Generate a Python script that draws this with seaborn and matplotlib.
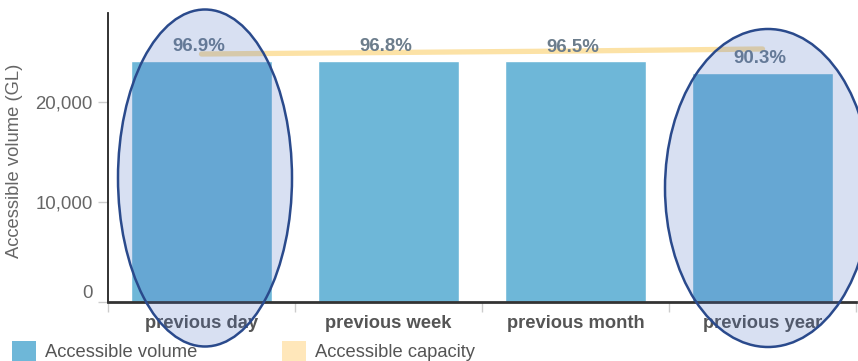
import matplotlib
matplotlib.use("Agg")
import matplotlib.pyplot as plt
import matplotlib.transforms as mtransforms
from matplotlib.patches import Ellipse, Patch
from matplotlib.ticker import FuncFormatter
import seaborn as sns
import pandas as pd

categories = ["previous day", "previous week", "previous month", "previous year"]
volume = [24130, 24130, 24100, 22920]
capacity = [24800, 24950, 25100, 25300]
pct_labels = ["96.9%", "96.8%", "96.5%", "90.3%"]
y_ticks = [0, 10000, 20000]
legend_labels = ["Accessible volume", "Accessible capacity"]
y_label = "Accessible volume (GL)"

bar_color = "#6EB7D8"
cap_color = "#FCE2A6"
cap_legend_color = "#FFE7BA"
label_color = "#6C7D8C"
text_gray = "#555555"
tick_gray = "#666666"

sns.set_theme(style="white")
plt.rcParams["font.family"] = ["Liberation Sans", "DejaVu Sans"]

df = pd.DataFrame({"period": categories, "volume": volume, "capacity": capacity})

W, H = 858, 361
fig = plt.figure(figsize=(W / 100, H / 100), dpi=100)
ax = fig.add_axes([108 / W, 59 / H, 748 / W, 289 / H])

sns.barplot(data=df, x="period", y="volume", color=bar_color, saturation=1,
            width=0.754, ax=ax, zorder=2)
sns.lineplot(data=df, x="period", y="capacity", color=cap_color, linewidth=3.8,
             ax=ax, zorder=3, sort=False)

for i, (v, lab) in enumerate(zip(volume, pct_labels)):
    ax.annotate(lab, xy=(i, v), xytext=(-2, 10), textcoords="offset points",
                ha="center", va="center", fontsize=13.4, fontweight="bold",
                color=label_color, zorder=4)

ax.set_xlim(-0.5, 3.5)
ax.set_ylim(0, 28900)
ax.set_xlabel("")
ax.set_ylabel(y_label, fontsize=13.2, color=tick_gray, labelpad=10)
ax.yaxis.set_label_coords(-85 / 748, 0.49)

ax.set_yticks(y_ticks)
ax.yaxis.set_major_formatter(FuncFormatter(lambda v, p: f"{int(v):,}"))
ax.tick_params(axis="y", which="major", length=7, width=1, color="#cccccc",
               labelsize=13.4, labelcolor=tick_gray, pad=4, left=True)
ax.tick_params(axis="x", which="major", length=0, labelsize=13.2,
               labelcolor=text_gray, pad=9)
for t in ax.get_xticklabels():
    t.set_fontweight("bold")
ax.set_xticks([-0.5, 0.5, 1.5, 2.5, 3.5], minor=True)
ax.tick_params(axis="x", which="minor", length=7, width=1, color="#cccccc",
               bottom=True)

# raise the "0" label above the baseline
fig.canvas.draw()
for t in ax.get_yticklabels():
    if t.get_text() == "0":
        t.set_transform(t.get_transform() +
                        mtransforms.ScaledTranslation(0, 10 / 100, fig.dpi_scale_trans))

for s in ["top", "right"]:
    ax.spines[s].set_visible(False)
ax.spines["left"].set_color("#222222")
ax.spines["left"].set_linewidth(1.3)
ax.spines["bottom"].set_color("#333333")
ax.spines["bottom"].set_linewidth(2)

handles = [Patch(facecolor=bar_color, edgecolor="none"),
           Patch(facecolor=cap_legend_color, edgecolor="none")]
fig.legend(handles, legend_labels, loc="center left",
           bbox_to_anchor=(12 / W, 10 / H), ncol=2, frameon=False,
           fontsize=13.2, labelcolor=text_gray, handlelength=1.3,
           handleheight=1.3, handletextpad=0.5, columnspacing=4.6,
           borderpad=0, borderaxespad=0)

# highlight ellipses
for cx, cy, w, h in [(205, 178, 174, 337), (768, 188, 206, 318)]:
    fig.add_artist(Ellipse((cx / W, 1 - cy / H), w / W, h / H,
                           transform=fig.transFigure, facecolor="#496EC2",
                           alpha=0.21, edgecolor="none", zorder=5))
    fig.add_artist(Ellipse((cx / W, 1 - cy / H), w / W, h / H,
                           transform=fig.transFigure, facecolor="none",
                           edgecolor="#2A4A8C", linewidth=1.8, zorder=6))

fig.savefig("out.png", dpi=100)
